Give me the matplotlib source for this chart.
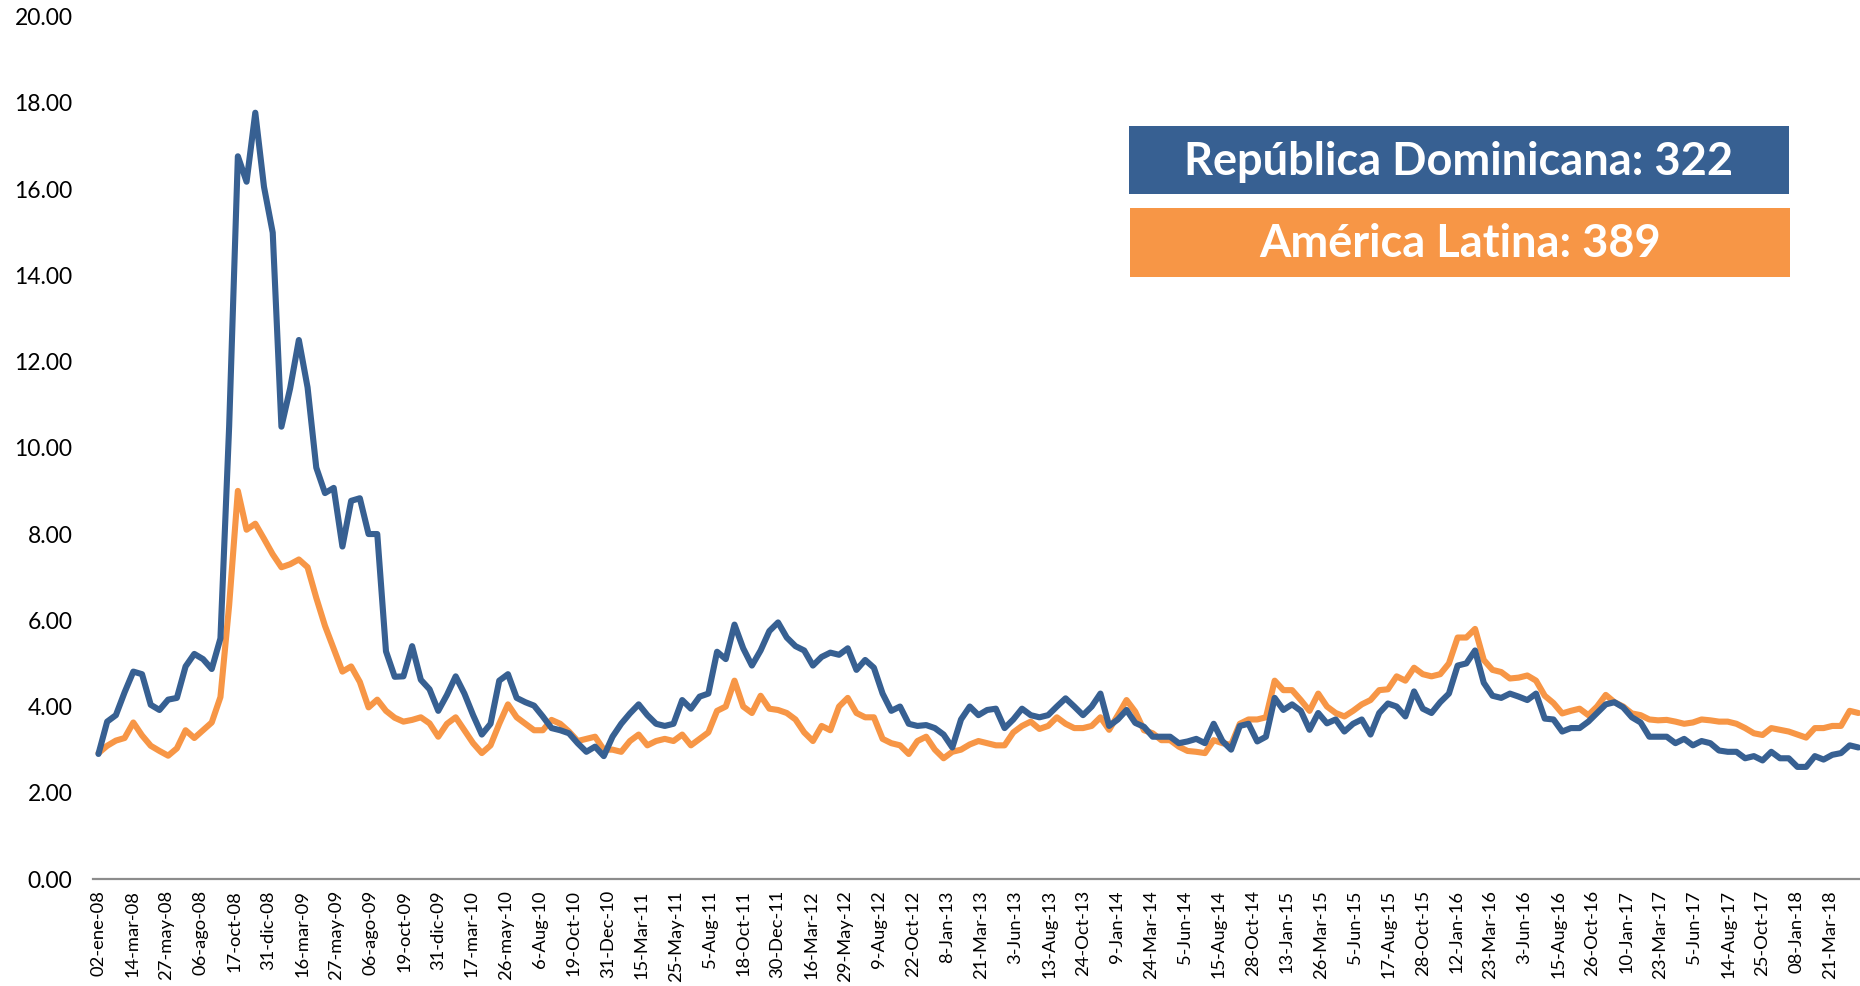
import numpy as np
import matplotlib
matplotlib.use("Agg")
import matplotlib.pyplot as plt
from matplotlib.patches import Rectangle

# ---------------- data ----------------
tick_labels = [
    "02-ene-08", "14-mar-08", "27-may-08", "06-ago-08", "17-oct-08", "31-dic-08",
    "16-mar-09", "27-may-09", "06-ago-09", "19-oct-09", "31-dic-09", "17-mar-10",
    "26-may-10", "6-Aug-10", "19-Oct-10", "31-Dec-10", "15-Mar-11", "25-May-11",
    "5-Aug-11", "18-Oct-11", "30-Dec-11", "16-Mar-12", "29-May-12", "9-Aug-12",
    "22-Oct-12", "8-Jan-13", "21-Mar-13", "3-Jun-13", "13-Aug-13", "24-Oct-13",
    "9-Jan-14", "24-Mar-14", "5-Jun-14", "15-Aug-14", "28-Oct-14", "13-Jan-15",
    "26-Mar-15", "5-Jun-15", "17-Aug-15", "28-Oct-15", "12-Jan-16", "23-Mar-16",
    "3-Jun-16", "15-Aug-16", "26-Oct-16", "10-Jan-17", "23-Mar-17", "5-Jun-17",
    "14-Aug-17", "25-Oct-17", "08-Jan-18", "21-Mar-18",
]

# sampling step of the series, in label intervals (~13 trading days)
sample_step = 0.2566

rep_dominicana = [
    2.90, 3.65, 3.80, 4.33, 4.81, 4.75, 4.04, 3.92, 4.16, 4.20,
    4.93, 5.22, 5.10, 4.87, 5.58, 10.50, 16.76, 16.17, 17.77, 16.05,
    14.99, 10.49, 11.38, 12.50, 11.40, 9.54, 8.95, 9.07, 7.71, 8.77,
    8.83, 8.00, 8.00, 5.28, 4.69, 4.70, 5.40, 4.62, 4.40, 3.90,
    4.27, 4.70, 4.30, 3.80, 3.35, 3.60, 4.60, 4.75, 4.20, 4.10,
    4.02, 3.77, 3.50, 3.45, 3.38, 3.15, 2.95, 3.07, 2.85, 3.30,
    3.60, 3.84, 4.05, 3.80, 3.60, 3.55, 3.60, 4.15, 3.95, 4.23,
    4.30, 5.27, 5.10, 5.90, 5.35, 4.95, 5.30, 5.75, 5.95, 5.60,
    5.40, 5.30, 4.95, 5.15, 5.25, 5.20, 5.35, 4.85, 5.08, 4.90,
    4.30, 3.90, 4.00, 3.60, 3.55, 3.57, 3.50, 3.35, 3.05, 3.70,
    4.00, 3.80, 3.92, 3.95, 3.50, 3.70, 3.95, 3.80, 3.75, 3.80,
    4.00, 4.19, 4.00, 3.80, 4.00, 4.30, 3.55, 3.70, 3.92, 3.62,
    3.53, 3.30, 3.30, 3.30, 3.15, 3.19, 3.25, 3.15, 3.60, 3.20,
    3.00, 3.55, 3.60, 3.19, 3.30, 4.20, 3.92, 4.05, 3.90, 3.46,
    3.85, 3.61, 3.70, 3.42, 3.60, 3.70, 3.35, 3.85, 4.07, 4.00,
    3.77, 4.35, 3.95, 3.85, 4.10, 4.30, 4.95, 5.00, 5.30, 4.55,
    4.25, 4.20, 4.30, 4.23, 4.15, 4.30, 3.72, 3.70, 3.42, 3.50,
    3.50, 3.65, 3.85, 4.05, 4.10, 3.98, 3.75, 3.63, 3.30, 3.30,
    3.30, 3.15, 3.25, 3.10, 3.20, 3.15, 2.98, 2.95, 2.95, 2.80,
    2.85, 2.75, 2.95, 2.80, 2.80, 2.60, 2.60, 2.85, 2.77, 2.88,
    2.92, 3.10, 3.05,
]

america_latina = [
    2.92, 3.09, 3.21, 3.27, 3.63, 3.33, 3.09, 2.97, 2.86, 3.03,
    3.45, 3.27, 3.45, 3.63, 4.22, 6.35, 9.00, 8.10, 8.24, 7.89,
    7.53, 7.23, 7.30, 7.41, 7.23, 6.52, 5.87, 5.34, 4.81, 4.93,
    4.57, 3.98, 4.16, 3.90, 3.74, 3.65, 3.69, 3.75, 3.61, 3.30,
    3.60, 3.75, 3.45, 3.15, 2.92, 3.10, 3.60, 4.05, 3.75, 3.60,
    3.45, 3.45, 3.69, 3.60, 3.42, 3.20, 3.25, 3.30, 3.00, 3.00,
    2.95, 3.20, 3.35, 3.10, 3.20, 3.25, 3.20, 3.35, 3.10, 3.25,
    3.40, 3.90, 4.00, 4.60, 4.00, 3.85, 4.25, 3.95, 3.92, 3.85,
    3.70, 3.40, 3.20, 3.55, 3.45, 4.00, 4.20, 3.85, 3.75, 3.75,
    3.25, 3.15, 3.10, 2.90, 3.20, 3.30, 3.00, 2.80, 2.95, 3.00,
    3.12, 3.20, 3.15, 3.10, 3.10, 3.40, 3.55, 3.65, 3.48, 3.55,
    3.75, 3.60, 3.50, 3.50, 3.55, 3.75, 3.46, 3.80, 4.15, 3.88,
    3.45, 3.38, 3.22, 3.22, 3.07, 2.97, 2.95, 2.92, 3.22, 3.15,
    3.11, 3.60, 3.70, 3.70, 3.75, 4.60, 4.38, 4.38, 4.15, 3.90,
    4.30, 4.00, 3.85, 3.77, 3.90, 4.05, 4.15, 4.38, 4.40, 4.70,
    4.60, 4.90, 4.75, 4.70, 4.75, 5.00, 5.60, 5.60, 5.80, 5.08,
    4.85, 4.80, 4.65, 4.67, 4.72, 4.60, 4.25, 4.08, 3.84, 3.90,
    3.95, 3.80, 4.00, 4.27, 4.10, 4.00, 3.84, 3.80, 3.70, 3.68,
    3.69, 3.65, 3.60, 3.63, 3.70, 3.68, 3.65, 3.65, 3.60, 3.50,
    3.38, 3.34, 3.50, 3.46, 3.42, 3.35, 3.28, 3.50, 3.50, 3.55,
    3.55, 3.90, 3.85,
]

legend_labels = ["República Dominicana: 322", "América Latina: 389"]
y_ticks = [0, 2, 4, 6, 8, 10, 12, 14, 16, 18, 20]

# ---------------- style ----------------
BLUE = "#376092"
ORANGE = "#F79646"
FONT = ["Lato", "DejaVu Sans"]
plt.rcParams["font.family"] = FONT

fig = plt.figure(figsize=(18.6, 9.86), dpi=100)
ax = fig.add_axes([0.0502, 0.1085, 0.9498, 0.8747])

x_rd = np.arange(len(rep_dominicana)) * sample_step
x_al = np.arange(len(america_latina)) * sample_step

ax.plot(x_al, america_latina, color=ORANGE, lw=4.4, solid_joinstyle="round",
        solid_capstyle="round", zorder=2)
ax.plot(x_rd, rep_dominicana, color=BLUE, lw=4.4, solid_joinstyle="round",
        solid_capstyle="round", zorder=3)

ax.set_ylim(0, 20)
ax.set_xlim(-0.15, 51.88)
ax.set_yticks(y_ticks)
ax.set_yticklabels([f"{v:.2f}" for v in y_ticks], fontsize=16.5, color="#000000")
ax.set_xticks(np.arange(len(tick_labels)))
ax.set_xticklabels(tick_labels, rotation=90, fontsize=13.2, color="#000000")
ax.tick_params(axis="y", length=0, pad=15)
ax.tick_params(axis="x", length=0, pad=8)

for s in ["left", "right", "top"]:
    ax.spines[s].set_visible(False)
ax.spines["bottom"].set_color("#8C8C8C")
ax.spines["bottom"].set_linewidth(1.6)

# legend boxes
boxes = [
    (0.607, 0.8032, 0.3548, 0.0690, BLUE),
    (0.6075, 0.7194, 0.3551, 0.0694, ORANGE),
]
for (bx, by, bw, bh, col), lab in zip(boxes, legend_labels):
    fig.add_artist(Rectangle((bx, by), bw, bh, transform=fig.transFigure,
                             facecolor=col, edgecolor="none", zorder=5))
    fig.text(bx + bw / 2, by + bh / 2 - 0.002, lab, ha="center", va="center",
             color="white", fontsize=32.5, fontweight="bold", zorder=6)

fig.savefig("out.png", dpi=100)
